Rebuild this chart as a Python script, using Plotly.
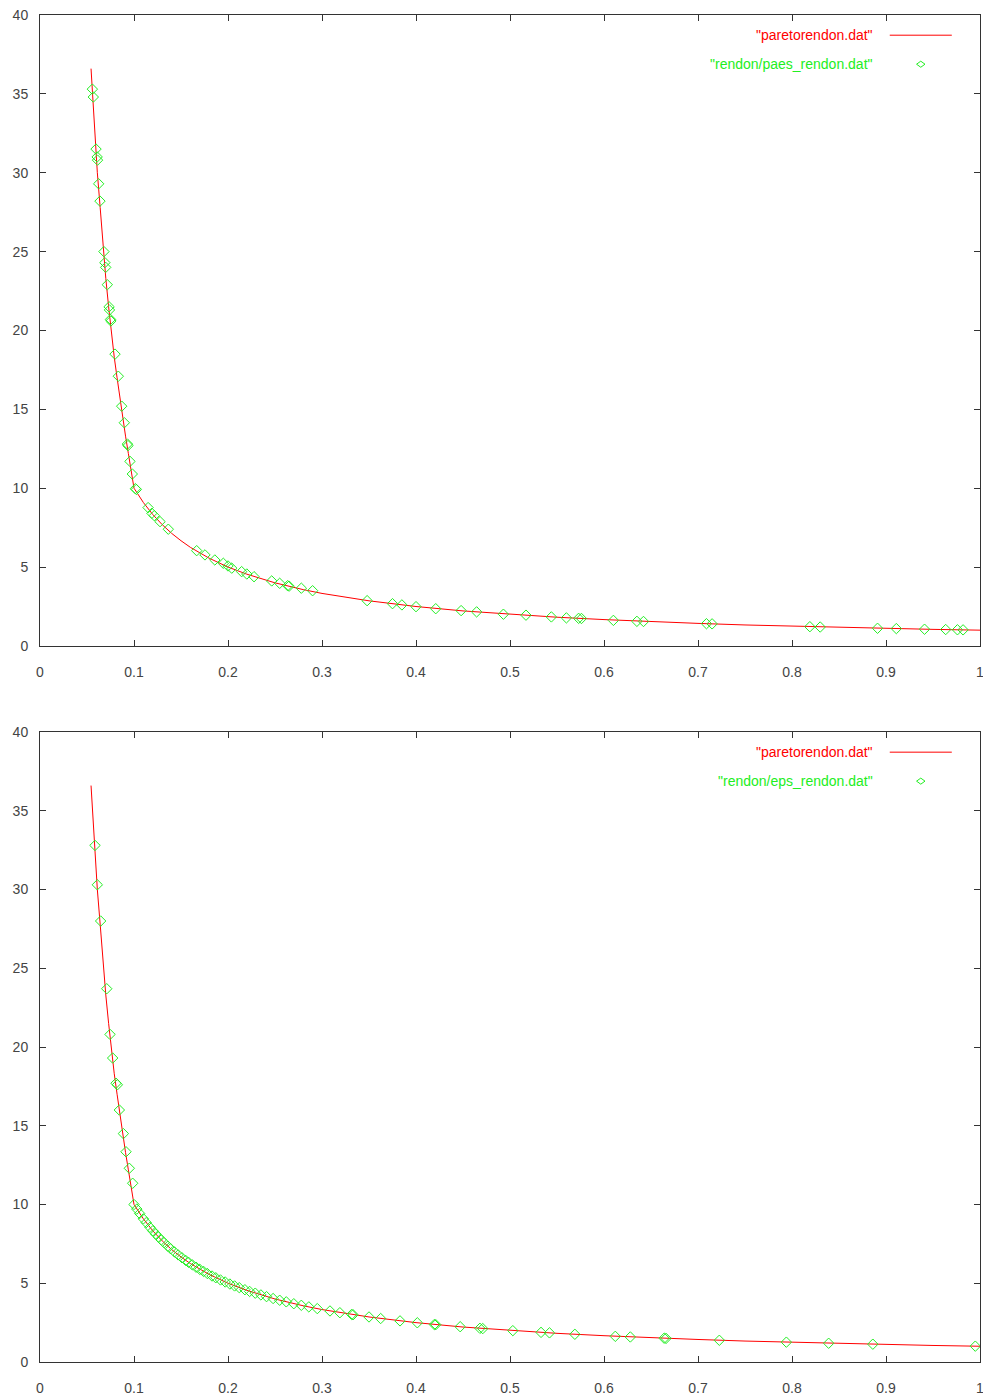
import plotly.graph_objects as go
from plotly.subplots import make_subplots

# Pareto front line (paretorendon.dat)
front_x = [0.0543, 0.056, 0.0585, 0.061, 0.064, 0.067, 0.070, 0.073, 0.076, 0.079,
           0.082, 0.085, 0.088, 0.091, 0.094, 0.097, 0.100, 0.110, 0.120, 0.130,
           0.140, 0.150, 0.160, 0.180, 0.200, 0.220, 0.250, 0.280, 0.300, 0.350,
           0.400, 0.450, 0.500, 0.550, 0.600, 0.650, 0.700, 0.750, 0.800, 0.850,
           0.900, 0.950, 1.000]
front_y = [36.6, 34.8, 32.5, 30.0, 27.8, 25.3, 23.3, 21.5, 19.8, 18.3,
           17.0, 15.7, 14.5, 13.3, 12.2, 11.1, 10.0, 9.09, 8.33, 7.69,
           7.14, 6.67, 6.25, 5.56, 5.00, 4.55, 4.00, 3.57, 3.33, 2.86,
           2.50, 2.22, 2.00, 1.82, 1.67, 1.54, 1.43, 1.33, 1.25, 1.18,
           1.11, 1.05, 1.00]

# rendon/paes_rendon.dat
paes_x = [0.0557, 0.0567, 0.0596, 0.0608, 0.0612, 0.0624, 0.0638, 0.068, 0.069, 0.0699,
          0.0716, 0.0735, 0.0739, 0.0750, 0.0754, 0.0798, 0.0833, 0.0869, 0.0897, 0.0930,
          0.0936, 0.0957, 0.0982, 0.1015, 0.1025, 0.115, 0.119, 0.1216, 0.1277, 0.1365,
          0.1667, 0.1755, 0.186, 0.195, 0.200, 0.204, 0.2145, 0.220, 0.2277, 0.2465,
          0.255, 0.2635, 0.265, 0.278, 0.290, 0.348, 0.375, 0.385, 0.400, 0.421,
          0.448, 0.4645, 0.493, 0.517, 0.544, 0.560, 0.573, 0.576, 0.610, 0.635,
          0.642, 0.709, 0.715, 0.819, 0.830, 0.891, 0.911, 0.941, 0.9635, 0.976,
          0.982]
paes_y = [35.3, 34.8, 31.5, 31.0, 30.8, 29.3, 28.2, 25.0, 24.3, 24.0,
          22.9, 21.5, 21.3, 20.7, 20.6, 18.5, 17.1, 15.2, 14.15, 12.8,
          12.7, 11.7, 10.9, 9.97, 9.92, 8.77, 8.41, 8.26, 7.88, 7.40,
          6.04, 5.77, 5.45, 5.24, 5.07, 4.93, 4.71, 4.56, 4.39, 4.12,
          3.97, 3.82, 3.79, 3.66, 3.50, 2.87, 2.68, 2.60, 2.49, 2.36,
          2.24, 2.16, 2.01, 1.95, 1.84, 1.78, 1.75, 1.74, 1.62, 1.56,
          1.55, 1.41, 1.40, 1.22, 1.20, 1.12, 1.10, 1.06, 1.04, 1.025,
          1.02]

# rendon/eps_rendon.dat
eps_x = [0.0585, 0.061, 0.0645, 0.071, 0.0745, 0.0773, 0.0809, 0.0823, 0.0844, 0.0887,
         0.0915, 0.095, 0.0986, 0.100, 0.103, 0.106, 0.110, 0.113, 0.117, 0.120,
         0.123, 0.126, 0.129, 0.132, 0.136, 0.139, 0.143, 0.147, 0.151, 0.155,
         0.158, 0.162, 0.166, 0.170, 0.174, 0.178, 0.183, 0.187, 0.192, 0.197,
         0.202, 0.207, 0.212, 0.218, 0.223, 0.229, 0.235, 0.241, 0.248, 0.255,
         0.262, 0.270, 0.278, 0.286, 0.295, 0.3085, 0.319, 0.3316, 0.333, 0.350,
         0.3624, 0.383, 0.4014, 0.4195, 0.421, 0.447, 0.468, 0.471, 0.503, 0.533,
         0.542, 0.569, 0.612, 0.628, 0.664, 0.666, 0.7227, 0.794, 0.839, 0.886,
         0.995]
eps_y = [32.8, 30.3, 28.0, 23.7, 20.8, 19.3, 17.7, 17.6, 16.0, 14.5,
         13.35, 12.3, 11.35, 10.0, 9.71, 9.43, 9.09, 8.85, 8.55, 8.33,
         8.13, 7.94, 7.75, 7.58, 7.35, 7.19, 6.99, 6.80, 6.62, 6.45,
         6.33, 6.17, 6.02, 5.88, 5.75, 5.62, 5.46, 5.35, 5.21, 5.08,
         4.95, 4.83, 4.72, 4.59, 4.48, 4.37, 4.26, 4.15, 4.03, 3.92,
         3.82, 3.70, 3.60, 3.50, 3.39, 3.24, 3.13, 3.02, 3.00, 2.86,
         2.76, 2.61, 2.49, 2.38, 2.37, 2.24, 2.14, 2.12, 1.99, 1.88,
         1.85, 1.76, 1.63, 1.59, 1.51, 1.50, 1.38, 1.26, 1.19, 1.13,
         1.005]

x_ticks = [0, 0.1, 0.2, 0.3, 0.4, 0.5, 0.6, 0.7, 0.8, 0.9, 1]
x_tick_text = ["0", "0.1", "0.2", "0.3", "0.4", "0.5", "0.6", "0.7", "0.8", "0.9", "1"]
y_ticks = [0, 5, 10, 15, 20, 25, 30, 35, 40]

line_name = '"paretorendon.dat"'
set_names = ['"rendon/paes_rendon.dat"', '"rendon/eps_rendon.dat"']
point_sets = [(paes_x, paes_y), (eps_x, eps_y)]

RED = "#ff0000"
GREEN = "#22ee22"

fig = make_subplots(rows=2, cols=1, vertical_spacing=0.0639)

for i, (px, py) in enumerate(point_sets, start=1):
    fig.add_trace(go.Scatter(x=front_x, y=front_y, mode="lines",
                             line=dict(color=RED, width=1), name=line_name,
                             showlegend=False), row=i, col=1)
    fig.add_trace(go.Scatter(x=px, y=py, mode="markers",
                             marker=dict(symbol="diamond-open", size=8, color=GREEN,
                                         line=dict(width=1, color=GREEN)),
                             name=set_names[i - 1], showlegend=False), row=i, col=1)

axis_common = dict(showgrid=False, zeroline=False, showline=True, linecolor="#333333",
                   linewidth=1, mirror="allticks", ticks="inside", ticklen=6,
                   automargin=False, ticklabeloverflow="allow",
                   tickcolor="#333333", tickfont=dict(family="Liberation Sans", size=14,
                                                      color="#444444"))
for i in (1, 2):
    fig.update_xaxes(range=[0, 1], tickvals=x_ticks, ticktext=x_tick_text,
                     ticklabelstandoff=13, row=i, col=1, **axis_common)
    fig.update_yaxes(range=[0, 40], tickvals=y_ticks, ticklabelstandoff=8,
                     row=i, col=1, **axis_common)

fig.update_layout(yaxis=dict(domain=[0.5316, 1.0]), yaxis2=dict(domain=[0.0, 0.4677]))

# gnuplot-style key (text on the left, sample on the right)
for i, xa, ya in ((0, "x", "y"), (1, "x2", "y2")):
    xr = f"{xa} domain"
    yr = f"{ya} domain"
    y1, y2 = 0.968, 0.922
    fig.add_annotation(xref=xr, yref=yr, x=0.888, y=y1, text=line_name, showarrow=False,
                       xanchor="right", yanchor="middle",
                       font=dict(family="Liberation Sans", size=14, color=RED))
    fig.add_annotation(xref=xr, yref=yr, x=0.888, y=y2, text=set_names[i], showarrow=False,
                       xanchor="right", yanchor="middle",
                       font=dict(family="Liberation Sans", size=14, color=GREEN))
    fig.add_shape(type="line", xref=xr, yref=yr, x0=0.904, x1=0.970, y0=y1, y1=y1,
                  line=dict(color=RED, width=1))
    fig.add_shape(type="path", xref=xr, yref=yr,
                  path=f"M 0.9325 {y2} L 0.937 {y2 + 0.0048} L 0.9415 {y2} L 0.937 {y2 - 0.0048} Z",
                  line=dict(color=GREEN, width=1))

fig.update_layout(width=983, height=1400, plot_bgcolor="white", paper_bgcolor="white",
                  margin=dict(l=40, r=3, t=15, b=38, autoexpand=False), showlegend=False)

fig.write_html("out.html", config={"displayModeBar": False},
               post_script="document.body.style.margin='0';document.body.style.overflow='hidden';")
